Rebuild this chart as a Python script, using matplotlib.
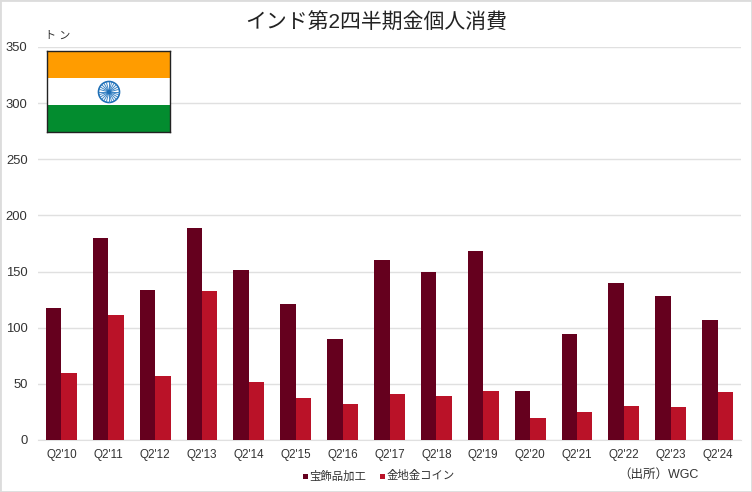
import numpy as np
import matplotlib
matplotlib.use("Agg")
import matplotlib.pyplot as plt
from matplotlib.patches import Rectangle, Circle

plt.rcParams['font.family'] = ['Liberation Sans', 'Noto Sans CJK JP', 'DejaVu Sans']

categories = ["Q2'10","Q2'11","Q2'12","Q2'13","Q2'14","Q2'15","Q2'16","Q2'17","Q2'18","Q2'19","Q2'20","Q2'21","Q2'22","Q2'23","Q2'24"]
jewellery = [117.5,180,134,188.5,151.5,121.5,90,160.5,149.5,168.5,44,94,140,128.5,106.5]
bars_coins = [60,111,57,133,52,37,32,41,39.5,44,19.5,25,30.5,29,43]
yticks = [0,50,100,150,200,250,300,350]

W, H = 752, 492
fig = plt.figure(figsize=(W/100, H/100), dpi=100, facecolor='white')
ax = fig.add_axes([38/W, 1-440/H, 703/W, 393/H])
x = np.arange(len(categories))
bw = 0.33
ax.bar(x-bw/2, jewellery, bw, color='#65001E', edgecolor='none', label='宝飾品加工', zorder=3)
ax.bar(x+bw/2, bars_coins, bw, color='#BA1228', edgecolor='none', label='金地金コイン', zorder=3)
ax.set_xlim(-0.5, len(categories)-0.5)
ax.set_ylim(0, 350)
ax.set_yticks(yticks)
ax.set_xticks(x, categories)
ax.grid(axis='y', color='#E0E0E0', lw=1, zorder=0)
ax.set_axisbelow(True)
for s in ['top','right','left']:
    ax.spines[s].set_visible(False)
ax.spines['bottom'].set_color('#E0E0E0')
ax.tick_params(axis='both', length=0)
ax.tick_params(axis='x', labelsize=8.4, labelcolor='#333333', pad=6.5)
ax.tick_params(axis='y', labelsize=9.4, labelcolor='#333333', pad=7.5)

fig.text(376/W, 1-23/H, 'インド第2四半期金個人消費', ha='center', va='center', fontsize=15, color='#222222')
fig.text(45/W, 1-35.5/H, 'ト ン', ha='left', va='center', fontsize=8, color='#333333')
fig.text(658/W, 1-475/H, '（出所）WGC', ha='center', va='center', fontsize=9, color='#333333')

# legend
for px, col, label in [(305, '#65001E', '宝飾品加工'), (382, '#BA1228', '金地金コイン')]:
    fig.add_artist(Rectangle(((px-2.5)/W, 1-(476+2.5)/H), 5/W, 5/H, transform=fig.transFigure, color=col, lw=0))
    fig.text((px+4.5)/W, 1-476/H, label, ha='left', va='center', fontsize=8.2, color='#333333')

# flag
fx = fig.add_axes([47/W, 1-132/H, 123/W, 81/H], zorder=5)
fx.set_xlim(0, 123); fx.set_ylim(0, 81)
fx.add_patch(Rectangle((0, 54), 123, 27, color='#FF9C00', lw=0))
fx.add_patch(Rectangle((0, 27), 123, 27, color='white', lw=0))
fx.add_patch(Rectangle((0, 0), 123, 27, color='#038C2F', lw=0))
fx.add_patch(Circle((62, 40), 10.5, fc='white', ec='#1F6FB5', lw=1.2))
for a in np.linspace(0, 2*np.pi, 24, endpoint=False):
    fx.plot([62, 62+10*np.cos(a)], [40, 40+10*np.sin(a)], color='#3D86C6', lw=0.7)
fx.add_patch(Circle((62, 40), 2.2, fc='#1F6FB5', ec='none', zorder=4))
fx.set_xticks([]); fx.set_yticks([])
for s in fx.spines.values():
    s.set_color('#222222'); s.set_linewidth(1)

# outer border
fig.add_artist(Rectangle((0, 0), 1, 1, transform=fig.transFigure, fc='none', ec='#DCDCDC', lw=2))

fig.savefig('out.png', dpi=100)
